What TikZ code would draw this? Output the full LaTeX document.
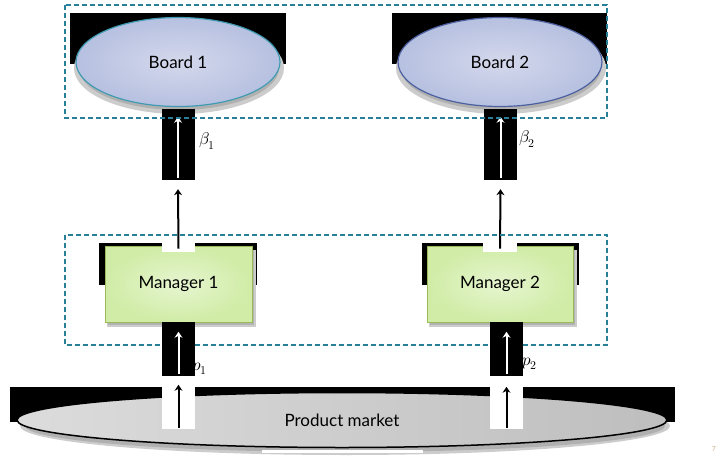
\documentclass[tikz,border=0pt]{standalone}
\usepackage{fontspec}
\usepackage{unicode-math}
\setmainfont{Lato}
\setmathfont{Latin Modern Math}
\usetikzlibrary{shapes.geometric,arrows.meta}

\definecolor{frameteal}{RGB}{40,128,152}
\definecolor{boardin}{RGB}{212,216,236}
\definecolor{boardout}{RGB}{182,192,224}
\definecolor{boardone}{RGB}{64,155,178}
\definecolor{boardtwo}{RGB}{76,96,160}
\definecolor{mgrin}{RGB}{230,245,208}
\definecolor{mgrout}{RGB}{208,236,166}
\definecolor{mgrline}{RGB}{155,187,89}
\definecolor{mktleft}{RGB}{220,220,220}
\definecolor{mktright}{RGB}{190,190,190}
\definecolor{pagenum}{RGB}{200,180,140}

\begin{document}
\begin{tikzpicture}[x=1pt,y=-1pt,
    frame/.style={draw=frameteal,line width=1.2pt,dash pattern=on 5pt off 3pt},
    board/.style={ellipse,minimum width=204pt,minimum height=89pt,inner color=boardin,outer color=boardout,line width=1.2pt,font=\fontsize{17}{20}\selectfont},
    manager/.style={rectangle,minimum width=147pt,minimum height=76pt,draw=mgrline,line width=0.8pt,inner color=mgrin,outer color=mgrout,font=\fontsize{17}{20}\selectfont},
    market/.style={ellipse,minimum width=650pt,minimum height=55pt,draw=black,line width=1.5pt,left color=mktleft,right color=mktright,font=\fontsize{17}{20}\selectfont},
    darkbox/.style={rectangle,fill=black,minimum width=33pt,inner sep=0pt},
    lightbox/.style={rectangle,fill=white,minimum width=33pt,inner sep=0pt},
    whitearrow/.style={draw=white,line width=2pt,-{Stealth[length=6pt,width=8pt]}},
    blackarrow/.style={draw=black,line width=2pt,-{Stealth[length=6pt,width=8pt]}},
    lbl/.style={font=\fontsize{17}{20}\selectfont,inner sep=1pt}]
  \useasboundingbox[fill=white] (0,0) rectangle (717,455);

  \fill[black] (70,13) rectangle (286,64);
  \fill[black] (392,13) rectangle (607,64);
  \fill[gray!40] (179,68) ellipse [x radius=105pt, y radius=46pt];
  \fill[gray!62] (179,68) ellipse [x radius=100pt, y radius=42pt];
  \fill[gray!40] (501,68) ellipse [x radius=105pt, y radius=46pt];
  \fill[gray!62] (501,68) ellipse [x radius=100pt, y radius=42pt];

  \node[board,draw=boardone] (board1) at (178,62) {Board 1};
  \node[board,draw=boardtwo] (board2) at (500,62) {Board 2};

  \node[darkbox,minimum height=71pt] (beta1box) at (178,144.5) {};
  \node[darkbox,minimum height=71pt] (beta2box) at (500.5,144.5) {};
  \draw[whitearrow] ([yshift=2pt]beta1box.south) -- ([yshift=-8pt]beta1box.north);
  \draw[whitearrow] ([yshift=2pt]beta2box.south) -- ([yshift=-8pt]beta2box.north);
  \node[lbl,anchor=west] (beta1) at (198,141) {$\beta_1$};
  \node[lbl,anchor=west] (beta2) at (518,139) {$\beta_2$};

  \draw[frame] (65,5) rectangle (607,118);

  \fill[black] (99,243) rectangle (257,285);
  \fill[black] (422,243) rectangle (579,285);
  \fill[gray!40] (107,250) rectangle (256,327);
  \fill[gray!60] (108,250) rectangle (254,325);
  \fill[gray!40] (429,250) rectangle (577,327);
  \fill[gray!60] (430,250) rectangle (575,325);
  \node[manager] (man1) at (178.5,284) {Manager 1};
  \node[manager,minimum width=146pt] (man2) at (500,284) {Manager 2};
  \fill[white] (162,243) rectangle (195,252);
  \fill[white] (483,243) rectangle (517,252);

  \draw[blackarrow] ([yshift=-3pt]man1.north) -- ([yshift=-9pt]beta1box.south);
  \draw[blackarrow] ([yshift=-3pt]man2.north) -- ([yshift=-9pt]beta2box.south);

  \draw[frame] (65,235) rectangle (607,345);

  \fill[black] (10,387) rectangle (675,422);
  \fill[gray!40] (345,426) ellipse [x radius=325pt, y radius=29pt];
  \fill[gray!62] (345,426) ellipse [x radius=320pt, y radius=26pt];
  \node[market] (mkt) at (342,420) {Product market};
  \fill[white] (262,450) rectangle (423,453);

  \node[darkbox,minimum height=54pt] (p1box) at (178.5,349) {};
  \node[darkbox,minimum height=54pt] (p2box) at (506.5,349) {};
  \draw[whitearrow] ([yshift=2pt]p1box.south) -- ([yshift=-10pt]p1box.north);
  \draw[whitearrow] ([yshift=2pt]p2box.south) -- ([yshift=-10pt]p2box.north);
  \node[lbl,anchor=west] (p1) at (191,369) {$p_1$};
  \node[lbl,anchor=west] (p2) at (521,364) {$p_2$};

  \node[lightbox,minimum height=46pt] (m1box) at (178.5,406) {};
  \node[lightbox,minimum height=43pt] (m2box) at (506.5,407.5) {};
  \draw[blackarrow] ([yshift=1pt]m1box.south) -- ([yshift=-2pt]m1box.north);
  \draw[blackarrow] ([yshift=1pt]m2box.south) -- ([yshift=-1pt]m2box.north);

  \node[font=\fontsize{7}{8}\selectfont,text=pagenum,inner sep=0pt] (page) at (714,449) {7};
\end{tikzpicture}
\end{document}
